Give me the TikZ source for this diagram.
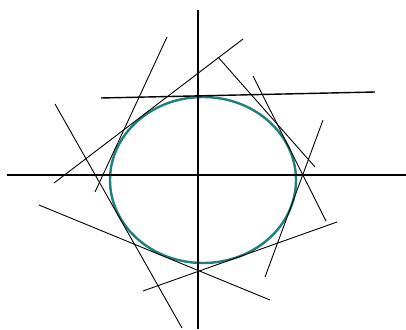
\documentclass[tikz,border=0pt]{standalone}
\begin{document}
\begin{tikzpicture}[x=1pt,y=-1pt,
  axis/.style={line width=2.4pt,black},
  tline/.style={line width=0.9pt,black},
  curve/.style={line width=2.4pt,draw={rgb,255:red,30;green,128;blue,122}}]
\useasboundingbox (0,0) rectangle (406,329);
\fill[white] (0,0) rectangle (406,329);
% ellipse
\coordinate (c) at (203,180);
\draw[curve] (c) ellipse [x radius=93, y radius=83];
% axes
\coordinate (vt) at (198,10); \coordinate (vb) at (198,329);
\coordinate (hl) at (7,175); \coordinate (hr) at (406,175);
\draw[axis] (vt) -- (vb);
\draw[axis] (hl) -- (hr);
% tangent lines
\coordinate (a1) at (101,98);  \coordinate (b1) at (375,92);
\coordinate (a2) at (167,37);  \coordinate (b2) at (95,192);
\coordinate (a3) at (243,39);  \coordinate (b3) at (54,183);
\coordinate (a4) at (55,104);  \coordinate (b4) at (182,328);
\coordinate (a5) at (39,205);  \coordinate (b5) at (270,300);
\coordinate (a6) at (143,291); \coordinate (b6) at (337,222);
\coordinate (a7) at (265,277); \coordinate (b7) at (323,120);
\coordinate (a8) at (218,57);  \coordinate (b8) at (315,167);
\coordinate (a9) at (253,76);  \coordinate (b9) at (326,221);
\draw[tline,line width=1.4pt] (a1) -- (b1);
\draw[tline] (a2) -- (b2);
\draw[tline] (a3) -- (b3);
\draw[tline] (a4) -- (b4);
\draw[tline] (a5) -- (b5);
\draw[tline] (a6) -- (b6);
\draw[tline] (a7) -- (b7);
\draw[tline] (a8) -- (b8);
\draw[tline] (a9) -- (b9);
\end{tikzpicture}
\end{document}
